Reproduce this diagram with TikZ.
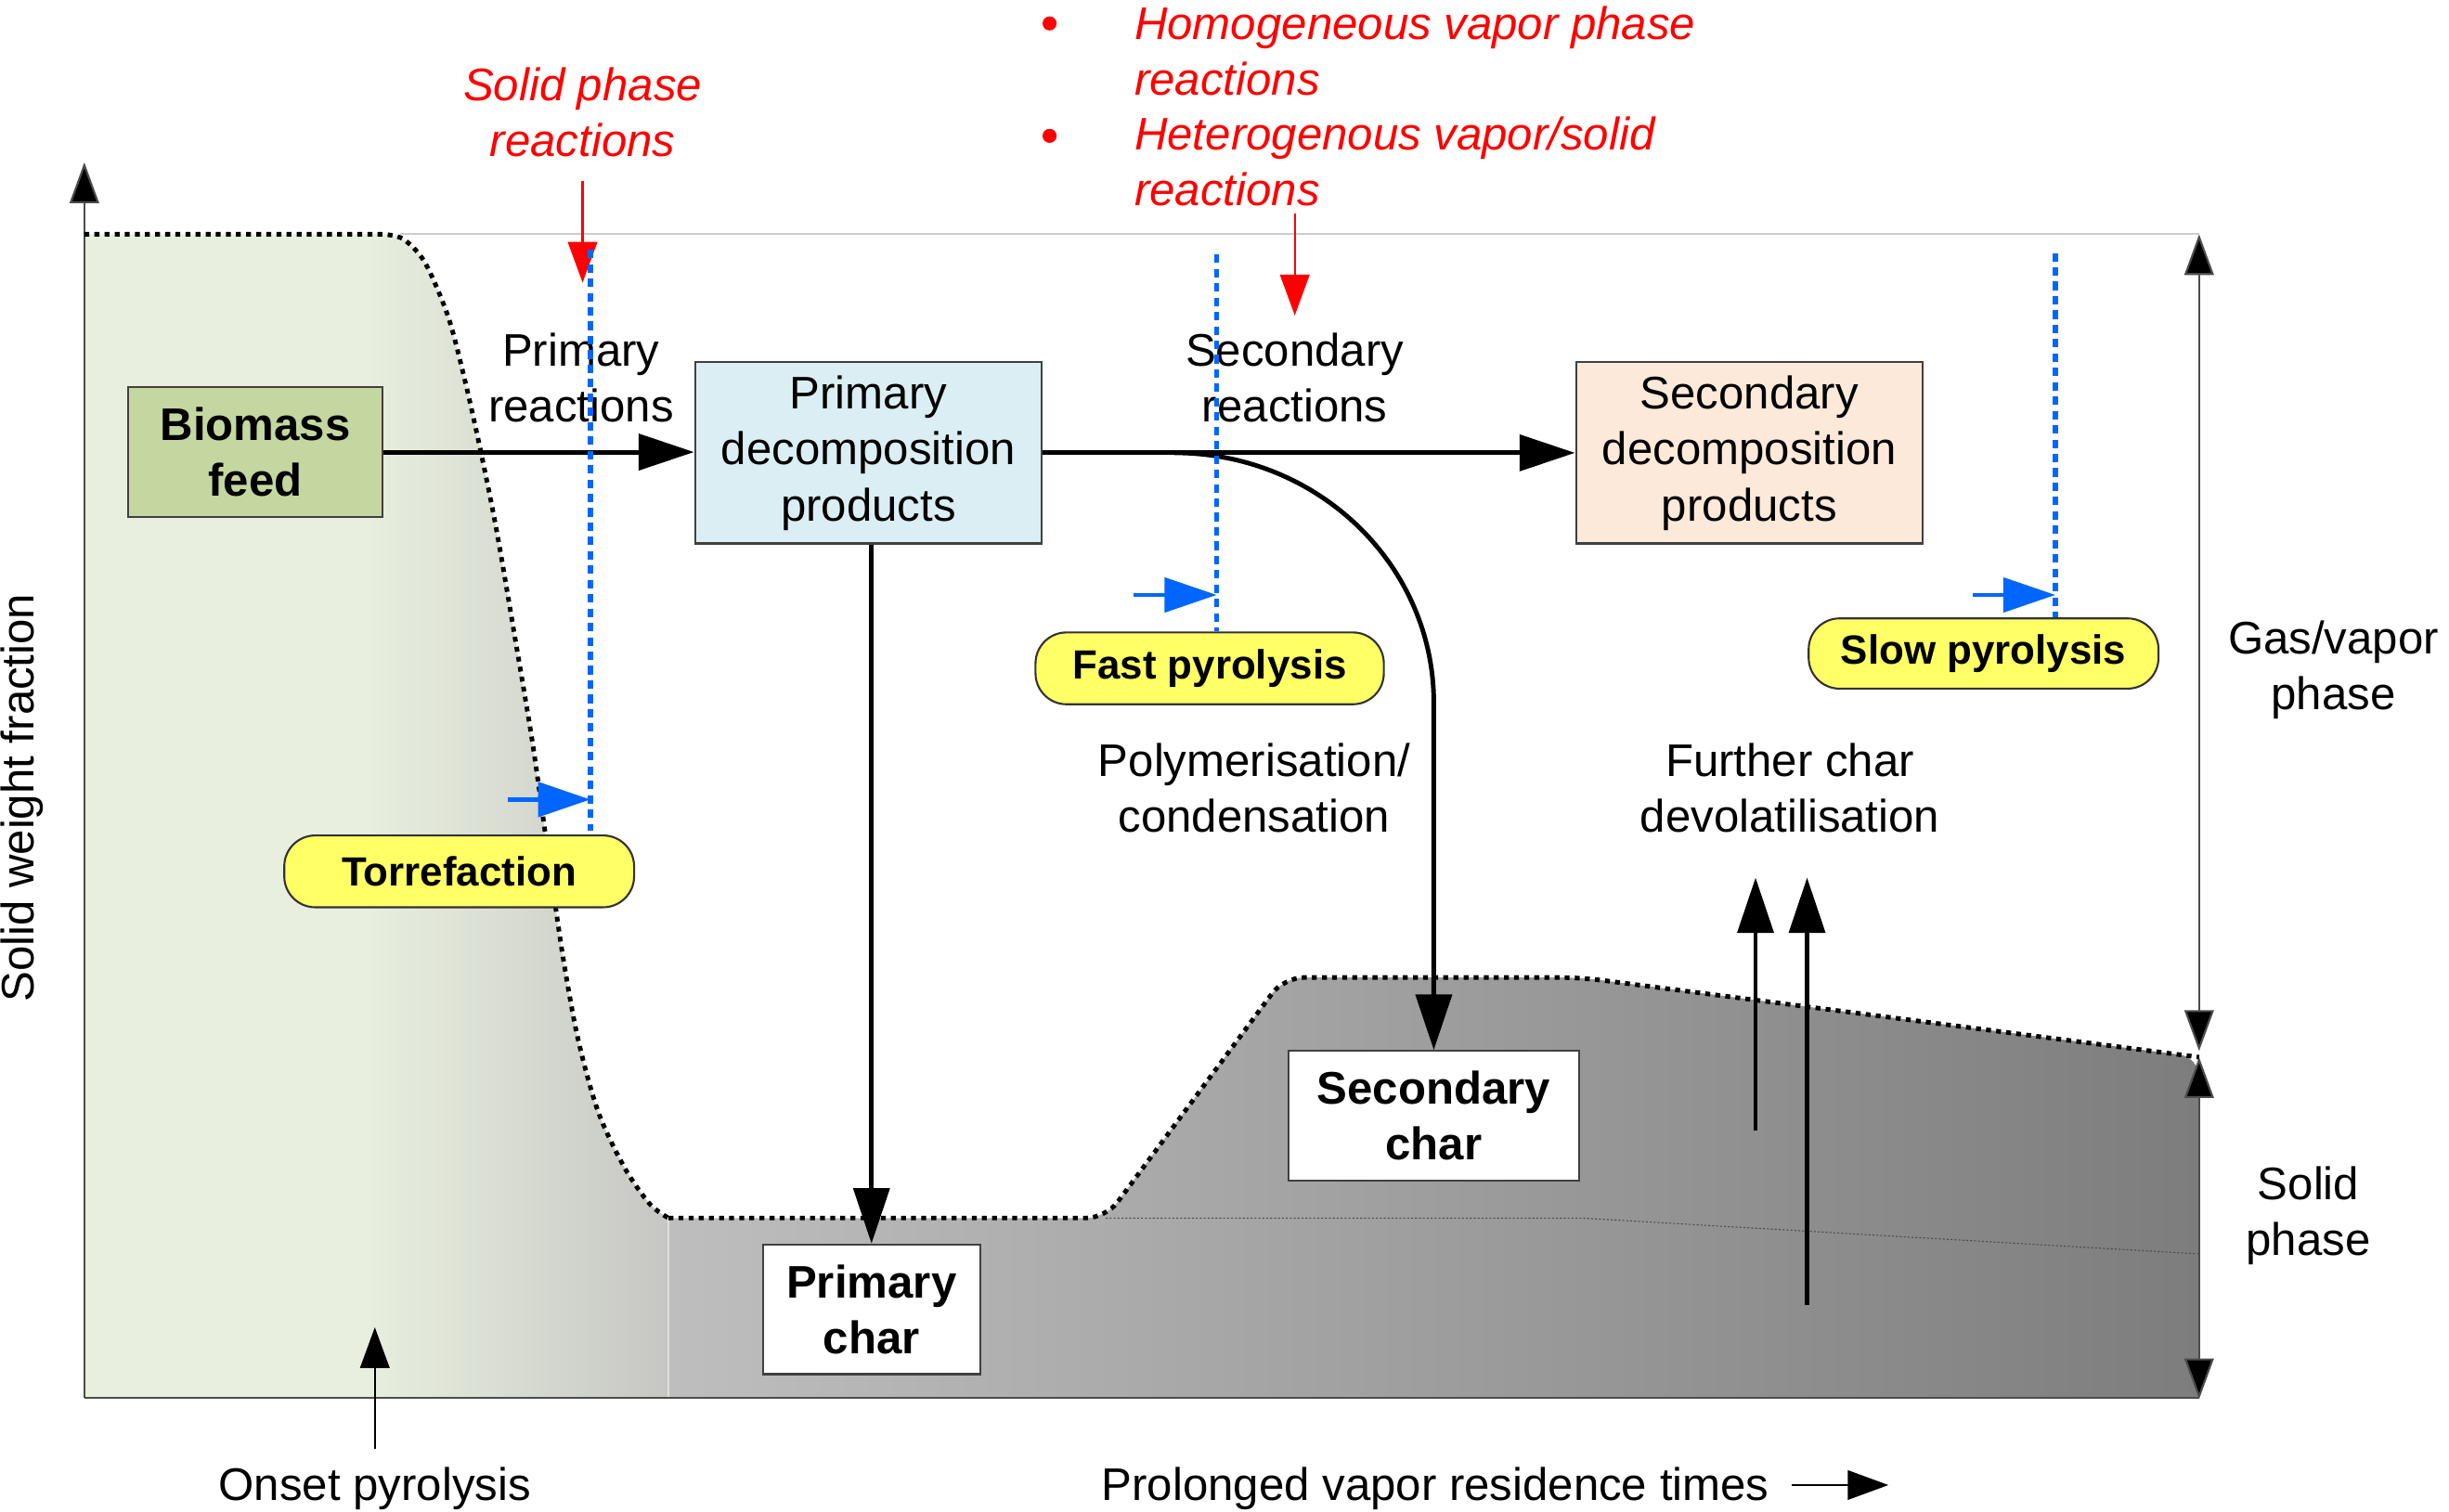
\documentclass[tikz,border=0pt]{standalone}
\usepackage{fontspec}
\setmainfont{Liberation Sans}
\usetikzlibrary{arrows.meta}
\newlength\dU
\setlength\dU{0.016824cm}
\definecolor{greenfill}{RGB}{232,239,222}
\definecolor{greyend}{RGB}{198,198,196}
\definecolor{graymid}{RGB}{190,190,190}
\definecolor{graydark}{RGB}{125,125,125}
\definecolor{biofill}{RGB}{196,215,160}
\definecolor{pdfill}{RGB}{218,238,243}
\definecolor{sdfill}{RGB}{253,233,217}
\definecolor{pillfill}{RGB}{255,255,102}
\definecolor{bluedot}{RGB}{0,102,255}
\definecolor{redtxt}{RGB}{255,0,0}
\tikzset{
 bigtip/.tip={Triangle[length=17pt,width=11pt]},
 thintip/.tip={Triangle[length=12.5pt,width=9pt,fill=black]},
 bluetip/.tip={Triangle[length=16pt,width=10.5pt]},
 redtip/.tip={Triangle[length=12.5pt,width=9pt]},
 txt/.style={font=\fontsize{14}{17.2}\selectfont, align=center, inner sep=0pt},
 plainbox/.style={draw=black!75, line width=0.6pt, inner sep=0pt, align=center, font=\fontsize{14}{17.2}\selectfont},
 boldbox/.style={plainbox, fill=white, font=\fontsize{14}{17.2}\selectfont\bfseries},
 pillbox/.style={draw=black!80, line width=0.6pt, fill=pillfill, rounded corners=9.5pt, inner sep=0pt, font=\fontsize{12.5}{15}\selectfont\bfseries, minimum width=224*\dU, minimum height=46*\dU},
 flowarrow/.style={line width=1.4pt, -bigtip},
 bluedash/.style={bluedot, line width=1.6pt, dash pattern=on 2.6pt off 1.8pt},
 bluearrow/.style={bluedot, line width=1.4pt, -bluetip},
 redarrow/.style={redtxt, line width=0.6pt, -redtip},
 redtext/.style={txt, text=redtxt, font=\fontsize{14}{17.2}\selectfont\itshape},
 bulletmark/.style={circle, fill=redtxt, inner sep=0pt, minimum size=9*\dU},
 boundary/.style={line width=1.4pt, dash pattern=on 1.5pt off 1.6pt},
 axisline/.style={black!70, line width=0.6pt},
}
\begin{document}
\begin{tikzpicture}[x=0.016824cm, y=-0.016824cm]
\useasboundingbox (0,0) rectangle (1568,968);
\fill[white] (0,0) rectangle (1568,968);

% ---- regions ----
\begin{scope}
\clip (54,150) -- plot[smooth] coordinates {(245,150) (258,153) (272,168) (287,203) (298,245) (308,290) (318,340) (330,410) (341,476) (350,540) (360,610) (370,665) (383,712) (400,748) (416,771) (428,780)} -- (428,895) -- (54,895) -- cycle;
\fill[greenfill] (50,140) rectangle (236,900);
\shade[left color=greenfill, right color=greyend] (235,140) rectangle (429,900);
\end{scope}
\shade[left color=graymid, right color=graydark] (428,895) -- (428,780) [rounded corners=6] -- (708,780) -- (822,626) -- (1012,626) -- (1408,677) [sharp corners] -- (1408,895) -- cycle;
\draw[white!75!gray, line width=0.4pt] (428,780) -- (428,895);
\draw[black!70, line width=0.3pt, dash pattern=on 0.6pt off 0.6pt] (708,780) -- (1012,780) -- (1408,803);

% ---- axes ----
\coordinate (O) at (54,895);
\coordinate (Ytop) at (54,104);
\coordinate (Xend) at (1408,895);
\coordinate (Gtop) at (1408,150);
\coordinate (Gbot) at (1408,673);
\coordinate (Stop) at (1408,677);
\coordinate (Sbot) at (1408,896);
\draw[black!20, line width=0.5pt] (256,150) -- (Gtop);
\draw[axisline, -thintip] (O) -- (Ytop);
\draw[axisline] (O) -- (Xend);
\draw[axisline, thintip-thintip] (Gtop) -- (Gbot);
\draw[axisline, thintip-thintip] (Stop) -- (Sbot);

% ---- boundaries ----
\draw[boundary] (54,150) -- plot[smooth] coordinates {(245,150) (258,153) (272,168) (287,203) (298,245) (308,290) (318,340) (330,410) (341,476) (350,540) (360,610) (370,665) (383,712) (400,748) (416,771) (428,780)};
\draw[boundary, rounded corners=6] (428,780) -- (708,780) -- (822,626) -- (1012,626) -- (1408,677);

% ---- boxes ----
\node[plainbox, fill=biofill, minimum width=163*\dU, minimum height=83*\dU, font=\fontsize{14}{17.2}\selectfont\bfseries] (bio) at (163.5,289.5) {Biomass\\feed};
\node[plainbox, fill=pdfill, minimum width=222*\dU, minimum height=116*\dU] (pd) at (556,290) {Primary\\decomposition\\products};
\node[plainbox, fill=sdfill, minimum width=222*\dU, minimum height=116*\dU] (sd) at (1120,290) {Secondary\\decomposition\\products};
\node[boldbox, minimum width=139*\dU, minimum height=83*\dU] (pc) at (558,838.5) {Primary\\char};
\node[boldbox, minimum width=186*\dU, minimum height=83*\dU] (sc) at (918,714.5) {Secondary\\char};

% ---- flows ----
\draw[flowarrow] (bio.east) -- (bio.east -| pd.west);
\draw[flowarrow] (pd.east) -- (sd.west);
\draw[flowarrow] (pd.south -| pc.north) -- (pc.north);
\coordinate (branch) at (752,290);
\draw[flowarrow] (branch) .. controls (844,290) and (918,362) .. (918,450) -- (sc.north);
\coordinate (dvA) at (1124,724);
\coordinate (dvAt) at (1124,562);
\coordinate (dvB) at (1157,836);
\coordinate (dvBt) at (1157,562);
\draw[flowarrow] (dvA) -- (dvAt);
\draw[flowarrow] (dvB) -- (dvBt);

% ---- labels ----
\node[txt] (prr) at (372,242) {Primary\\reactions};
\node[txt] (srr) at (829,242) {Secondary\\reactions};
\node[txt] (poly) at (803,504.5) {Polymerisation/\\condensation};
\node[txt] (fcd) at (1146,504.5) {Further char\\devolatilisation};
\node[txt] (gvp) at (1494,429) {Gas/vapor\\phase};
\node[txt] (sph) at (1478,778.5) {Solid\\phase};
\node[txt, rotate=90] (ylab) at (14,511) {Solid weight fraction};
\node[txt] (onset) at (240,953) {Onset pyrolysis};
\node[txt] (pvrt) at (919,953) {Prolonged vapor residence times};
\coordinate (onA) at (240,928);
\coordinate (onB) at (240,850);
\draw[black, line width=0.6pt, -thintip] (onA) -- (onB);
\draw[black, line width=0.6pt, -thintip] ([xshift=14*\dU]pvrt.east |- 0,951) -- ++(62,0);

% ---- red notes ----
\node[redtext] (spr) at (373,72) {Solid phase\\reactions};
\node[bulletmark] (b1) at (672,15) {};
\node[bulletmark] (b2) at (672,87) {};
\node[redtext, anchor=west, align=left] (hom) at (726,32.5) {Homogeneous vapor phase\\reactions};
\node[redtext, anchor=west, align=left] (het) at (726,103.5) {Heterogenous vapor/solid\\reactions};
\coordinate (ra1) at (373,116);
\coordinate (ra1t) at (373,181);
\coordinate (ra2) at (829,137);
\coordinate (ra2t) at (829,202);
\draw[redarrow] (ra1) -- (ra1t);
\draw[redarrow] (ra2) -- (ra2t);

% ---- blue markers ----
\coordinate (bl1) at (378,160);
\coordinate (bl1b) at (378,532);
\coordinate (bl2) at (779,163);
\coordinate (bl2b) at (779,404);
\coordinate (bl3) at (1316,162);
\coordinate (bl3b) at (1316,395);
\draw[bluedash] (bl1) -- (bl1b);
\draw[bluedash] (bl2) -- (bl2b);
\draw[bluedash] (bl3) -- (bl3b);
\coordinate (ba1) at (325,512);
\coordinate (ba1t) at (378,512);
\coordinate (ba2) at (726,381);
\coordinate (ba2t) at (779,381);
\coordinate (ba3) at (1263,381);
\coordinate (ba3t) at (1316,381);
\draw[bluearrow] (ba1) -- (ba1t);
\draw[bluearrow] (ba2) -- (ba2t);
\draw[bluearrow] (ba3) -- (ba3t);

% ---- pills ----
\node[pillbox] (torr) at (294,558) {Torrefaction};
\node[pillbox, minimum width=223*\dU] (fast) at (774.5,428) {Fast pyrolysis};
\node[pillbox, minimum height=45*\dU] (slow) at (1270,418.5) {Slow pyrolysis};
\end{tikzpicture}
\end{document}
